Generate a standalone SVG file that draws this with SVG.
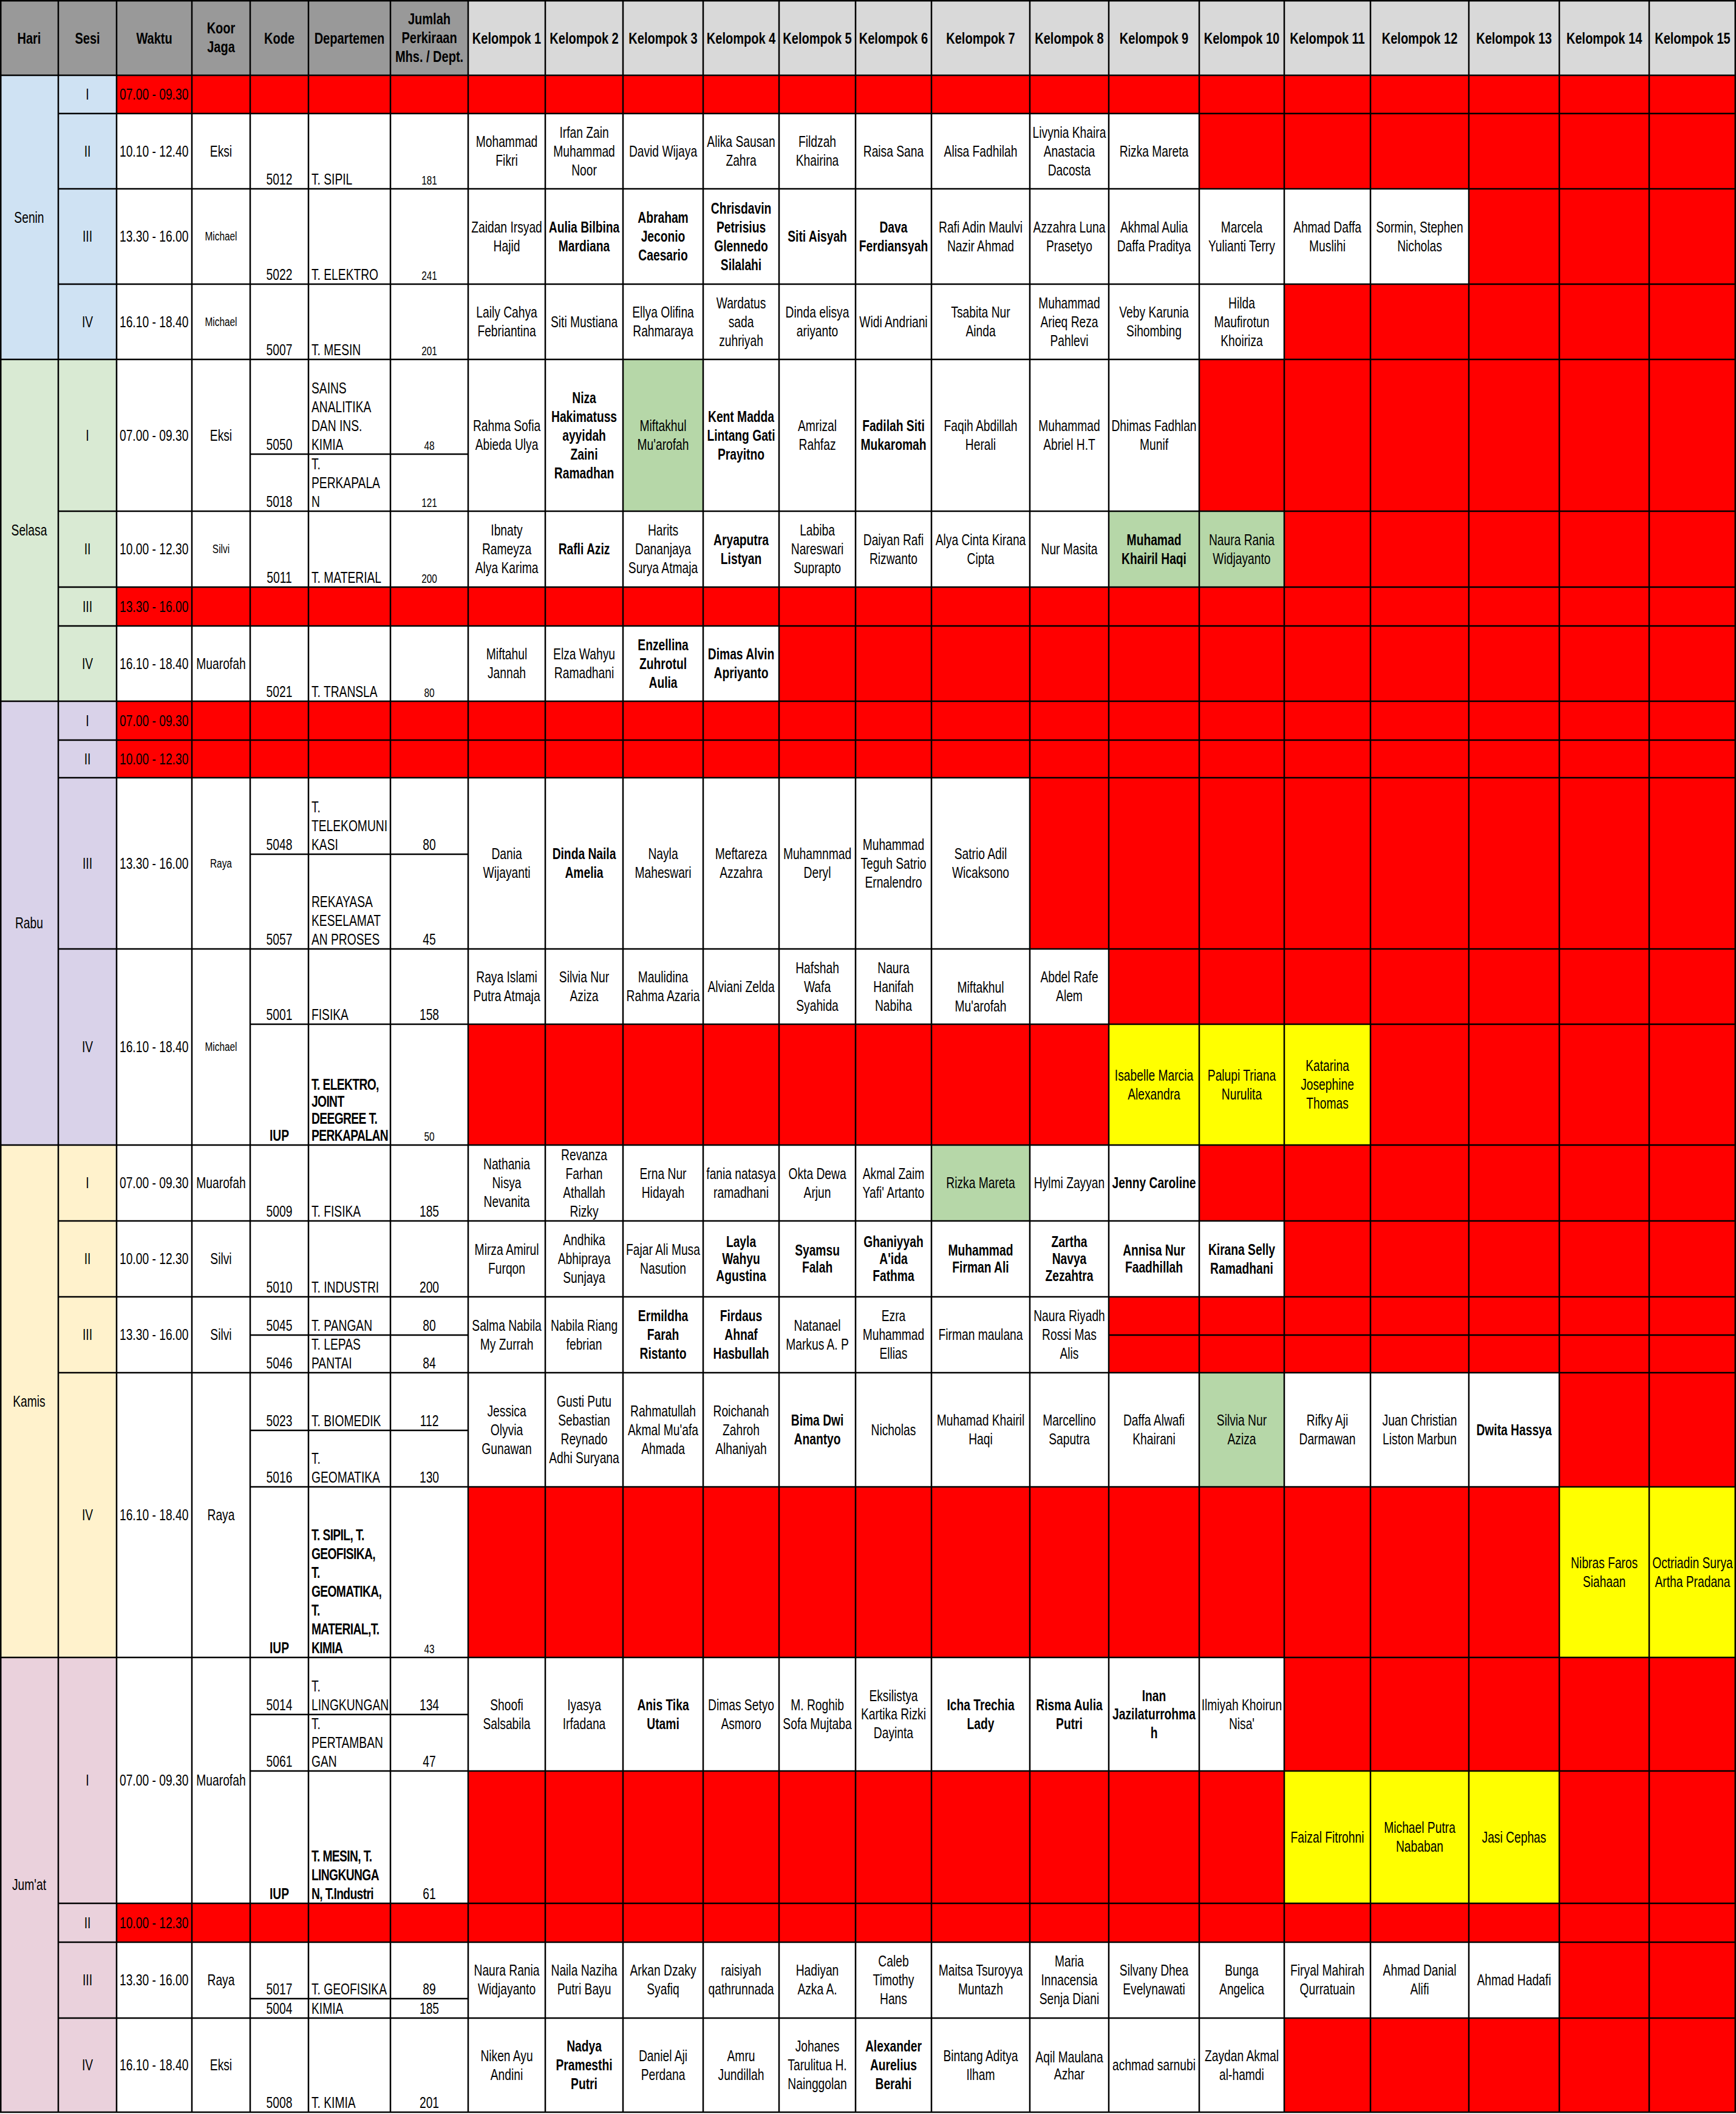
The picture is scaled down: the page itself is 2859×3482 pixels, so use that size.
<svg xmlns="http://www.w3.org/2000/svg" width="2859" height="3482" viewBox="0 0 2859 3482">
<style>
text{font-family:"Liberation Sans",Arial,sans-serif;font-size:25px;text-anchor:middle;fill:#000}
.b{font-weight:bold}
.s{font-size:20px}
.l{text-anchor:start}
.l.b{letter-spacing:-0.8px}
.h{font-weight:bold;font-size:26px}
.g{fill:none;stroke:#000;stroke-width:2.5}
</style>
<rect width="2859" height="3482" fill="#fff"/>
<g id="fills">
<rect x="0" y="0" width="771" height="124" fill="#999"/>
<rect x="771" y="0" width="2088" height="124" fill="#d9d9d9"/>
<rect x="0" y="124" width="192" height="468" fill="#cfe2f3"/>
<rect x="0" y="592" width="192" height="563" fill="#d9ead3"/>
<rect x="0" y="1155" width="192" height="731" fill="#d9d2e9"/>
<rect x="0" y="1886" width="192" height="844" fill="#fff2cc"/>
<rect x="0" y="2730" width="192" height="749" fill="#ead1dc"/>
<path fill="#f00" d="M192 124H2859V187H192Z M1975 187H2859V311H1975Z M2419 311H2859V468H2419Z M2115 468H2859V592H2115Z M1975 592H2859V842H1975Z M2115 842H2859V967H2115Z M192 967H2859V1031H192Z M1283 1031H2859V1155H1283Z M192 1155H2859V1281H192Z M1696 1281H2859V1563H1696Z M1826 1563H2859V1687H1826Z M771 1687H1826V1886H771Z M2257 1687H2859V1886H2257Z M1975 1886H2859V2011H1975Z M2115 2011H2859V2136H2115Z M1826 2136H2859V2261H1826Z M2568 2261H2859V2449H2568Z M771 2449H2568V2730H771Z M2115 2730H2859V2917H2115Z M771 2917H2115V3135H771Z M2568 2917H2859V3135H2568Z M192 3135H2859V3199H192Z M2568 3199H2859V3324H2568Z M2115 3324H2859V3479H2115Z"/>
<path fill="#b6d7a8" d="M1026 592H1158V842H1026Z M1826 842H2115V967H1826Z M1534 1886H1696V2011H1534Z M1975 2261H2115V2449H1975Z"/>
<path fill="#ff0" d="M1826 1687H2257V1886H1826Z M2568 2449H2859V2730H2568Z M2115 2917H2568V3135H2115Z"/>
</g>
<g id="grid">
<rect class="g" x="1.25" y="1.25" width="2856.5" height="3477.75"/>
<path class="g" d="M96 0V3479 M192 0V3479 M316 0V3479 M412 0V3479 M508 0V3479 M643 0V3479 M771 0V3479 M898 0V3479 M1026 0V3479 M1158 0V3479 M1283 0V3479 M1409 0V3479 M1534 0V3479 M1696 0V3479 M1826 0V3479 M1975 0V3479 M2115 0V3479 M2257 0V3479 M2419 0V3479 M2568 0V3479 M2716 0V3479"/>
<path class="g" d="M0 124H2859 M96 187H2859 M96 311H2859 M96 468H2859 M0 592H2859 M412 748H771 M96 842H2859 M96 967H2859 M96 1031H2859 M0 1155H2859 M96 1219H2859 M96 1281H2859 M412 1407H771 M96 1563H2859 M412 1687H2859 M0 1886H2859 M96 2011H2859 M96 2136H2859 M412 2199H771 M1826 2199H2859 M96 2261H2859 M412 2356H771 M412 2449H2859 M0 2730H2859 M412 2824H771 M412 2917H2859 M96 3135H2859 M96 3199H2859 M412 3292H771 M96 3324H2859"/>
</g>
<g id="texts" transform="scale(.77 1)">
<text class="h" x="62.3" y="72">Hari</text>
<text class="h" x="187" y="72">Sesi</text>
<text class="h" x="329.9" y="72">Waktu</text>
<text class="h" x="472.7" y="55">Koor<tspan x="472.7" dy="31">Jaga</tspan></text>
<text class="h" x="597.4" y="72">Kode</text>
<text class="h" x="747.4" y="72">Departemen</text>
<text class="h" x="918.2" y="40">Jumlah<tspan x="918.2" dy="31">Perkiraan</tspan><tspan x="918.2" dy="31">Mhs. / Dept.</tspan></text>
<text class="h" x="1083.8" y="72">Kelompok 1</text>
<text class="h" x="1249.4" y="72">Kelompok 2</text>
<text class="h" x="1418.2" y="72">Kelompok 3</text>
<text class="h" x="1585.1" y="72">Kelompok 4</text>
<text class="h" x="1748.1" y="72">Kelompok 5</text>
<text class="h" x="1911" y="72">Kelompok 6</text>
<text class="h" x="2097.4" y="72">Kelompok 7</text>
<text class="h" x="2287" y="72">Kelompok 8</text>
<text class="h" x="2468.2" y="72">Kelompok 9</text>
<text class="h" x="2655.8" y="72">Kelompok 10</text>
<text class="h" x="2839" y="72">Kelompok 11</text>
<text class="h" x="3036.4" y="72">Kelompok 12</text>
<text class="h" x="3238.3" y="72">Kelompok 13</text>
<text class="h" x="3431.2" y="72">Kelompok 14</text>
<text class="h" x="3620.1" y="72">Kelompok 15</text>

<text x="62.3" y="367">Senin</text>
<text x="62.3" y="882.5">Selasa</text>
<text x="62.3" y="1529.5">Rabu</text>
<text x="62.3" y="2317">Kamis</text>
<text x="62.3" y="3113.5">Jum'at</text>

<text x="187" y="164.5">I</text><text x="187" y="258">II</text><text x="187" y="398.5">III</text><text x="187" y="539">IV</text>
<text x="187" y="726">I</text><text x="187" y="913.5">II</text><text x="187" y="1008">III</text><text x="187" y="1102">IV</text>
<text x="187" y="1196">I</text><text x="187" y="1259">II</text><text x="187" y="1431">III</text><text x="187" y="1733.5">IV</text>
<text x="187" y="1957.5">I</text><text x="187" y="2082.5">II</text><text x="187" y="2207.5">III</text><text x="187" y="2504.5">IV</text>
<text x="187" y="2941.5">I</text><text x="187" y="3175.8">II</text><text x="187" y="3270">III</text><text x="187" y="3410.5">IV</text>

<text class="l" x="255.8" y="164.5">07.00 - 09.30</text>
<text class="l" x="255.8" y="258">10.10 - 12.40</text>
<text class="l" x="255.8" y="398.5">13.30 - 16.00</text>
<text class="l" x="255.8" y="539">16.10 - 18.40</text>
<text class="l" x="255.8" y="726">07.00 - 09.30</text>
<text class="l" x="255.8" y="913.5">10.00 - 12.30</text>
<text class="l" x="255.8" y="1008">13.30 - 16.00</text>
<text class="l" x="255.8" y="1102">16.10 - 18.40</text>
<text class="l" x="255.8" y="1196">07.00 - 09.30</text>
<text class="l" x="255.8" y="1259">10.00 - 12.30</text>
<text class="l" x="255.8" y="1431">13.30 - 16.00</text>
<text class="l" x="255.8" y="1733.5">16.10 - 18.40</text>
<text class="l" x="255.8" y="1957.5">07.00 - 09.30</text>
<text class="l" x="255.8" y="2082.5">10.00 - 12.30</text>
<text class="l" x="255.8" y="2207.5">13.30 - 16.00</text>
<text class="l" x="255.8" y="2504.5">16.10 - 18.40</text>
<text class="l" x="255.8" y="2941.5">07.00 - 09.30</text>
<text class="l" x="255.8" y="3175.8">10.00 - 12.30</text>
<text class="l" x="255.8" y="3270">13.30 - 16.00</text>
<text class="l" x="255.8" y="3410.5">16.10 - 18.40</text>

<text x="472.7" y="258">Eksi</text>
<text class="s" x="472.7" y="396.5">Michael</text>
<text class="s" x="472.7" y="537">Michael</text>
<text x="472.7" y="726">Eksi</text>
<text class="s" x="472.7" y="911.5">Silvi</text>
<text x="472.7" y="1102">Muarofah</text>
<text class="s" x="472.7" y="1429">Raya</text>
<text class="s" x="472.7" y="1731.5">Michael</text>
<text x="472.7" y="1957.5">Muarofah</text>
<text x="472.7" y="2082.5">Silvi</text>
<text x="472.7" y="2207.5">Silvi</text>
<text x="472.7" y="2504.5">Raya</text>
<text x="472.7" y="2941.5">Muarofah</text>
<text x="472.7" y="3270">Raya</text>
<text x="472.7" y="3410.5">Eksi</text>

<text x="597.4" y="304">5012</text>
<text x="597.4" y="461">5022</text>
<text x="597.4" y="585">5007</text>
<text x="597.4" y="741">5050</text>
<text x="597.4" y="835">5018</text>
<text x="597.4" y="960">5011</text>
<text x="597.4" y="1148">5021</text>
<text x="597.4" y="1400">5048</text>
<text x="597.4" y="1556">5057</text>
<text x="597.4" y="1680">5001</text>
<text class="b" x="597.4" y="1879">IUP</text>
<text x="597.4" y="2004">5009</text>
<text x="597.4" y="2129">5010</text>
<text x="597.4" y="2192">5045</text>
<text x="597.4" y="2254">5046</text>
<text x="597.4" y="2349">5023</text>
<text x="597.4" y="2442">5016</text>
<text class="b" x="597.4" y="2723">IUP</text>
<text x="597.4" y="2817">5014</text>
<text x="597.4" y="2910">5061</text>
<text class="b" x="597.4" y="3128">IUP</text>
<text x="597.4" y="3285">5017</text>
<text x="597.4" y="3317">5004</text>
<text x="597.4" y="3472">5008</text>

<text class="l" x="666.2" y="304">T. SIPIL</text>
<text class="l" x="666.2" y="461">T. ELEKTRO</text>
<text class="l" x="666.2" y="585">T. MESIN</text>
<text class="l" x="666.2" y="648">SAINS<tspan x="666.2" dy="31">ANALITIKA</tspan><tspan x="666.2" dy="31">DAN INS.</tspan><tspan x="666.2" dy="31">KIMIA</tspan></text>
<text class="l" x="666.2" y="773">T.<tspan x="666.2" dy="31">PERKAPALA</tspan><tspan x="666.2" dy="31">N</tspan></text>
<text class="l" x="666.2" y="960">T. MATERIAL</text>
<text class="l" x="666.2" y="1148">T. TRANSLA</text>
<text class="l" x="666.2" y="1338">T.<tspan x="666.2" dy="31">TELEKOMUNI</tspan><tspan x="666.2" dy="31">KASI</tspan></text>
<text class="l" x="666.2" y="1494">REKAYASA<tspan x="666.2" dy="31">KESELAMAT</tspan><tspan x="666.2" dy="31">AN PROSES</tspan></text>
<text class="l" x="666.2" y="1680">FISIKA</text>
<text class="l b" x="666.2" y="1795">T. ELEKTRO,<tspan x="666.2" dy="28">JOINT</tspan><tspan x="666.2" dy="28">DEEGREE T.</tspan><tspan x="666.2" dy="28">PERKAPALAN</tspan></text>
<text class="l" x="666.2" y="2004">T. FISIKA</text>
<text class="l" x="666.2" y="2129">T. INDUSTRI</text>
<text class="l" x="666.2" y="2192">T. PANGAN</text>
<text class="l" x="666.2" y="2223">T. LEPAS<tspan x="666.2" dy="31">PANTAI</tspan></text>
<text class="l" x="666.2" y="2349">T. BIOMEDIK</text>
<text class="l" x="666.2" y="2411">T.<tspan x="666.2" dy="31">GEOMATIKA</tspan></text>
<text class="l b" x="666.2" y="2537">T. SIPIL, T.<tspan x="666.2" dy="31">GEOFISIKA,</tspan><tspan x="666.2" dy="31">T.</tspan><tspan x="666.2" dy="31">GEOMATIKA,</tspan><tspan x="666.2" dy="31">T.</tspan><tspan x="666.2" dy="31">MATERIAL,T.</tspan><tspan x="666.2" dy="31">KIMIA</tspan></text>
<text class="l" x="666.2" y="2786">T.<tspan x="666.2" dy="31">LINGKUNGAN</tspan></text>
<text class="l" x="666.2" y="2848">T.<tspan x="666.2" dy="31">PERTAMBAN</tspan><tspan x="666.2" dy="31">GAN</tspan></text>
<text class="l b" x="666.2" y="3066">T. MESIN, T.<tspan x="666.2" dy="31">LINGKUNGA</tspan><tspan x="666.2" dy="31">N, T.Industri</tspan></text>
<text class="l" x="666.2" y="3285">T. GEOFISIKA</text>
<text class="l" x="666.2" y="3317">KIMIA</text>
<text class="l" x="666.2" y="3472">T. KIMIA</text>

<text class="s" x="918.2" y="304">181</text>
<text class="s" x="918.2" y="461">241</text>
<text class="s" x="918.2" y="585">201</text>
<text class="s" x="918.2" y="741">48</text>
<text class="s" x="918.2" y="835">121</text>
<text class="s" x="918.2" y="960">200</text>
<text class="s" x="918.2" y="1148">80</text>
<text x="918.2" y="1400">80</text>
<text x="918.2" y="1556">45</text>
<text x="918.2" y="1680">158</text>
<text class="s" x="918.2" y="1879">50</text>
<text x="918.2" y="2004">185</text>
<text x="918.2" y="2129">200</text>
<text x="918.2" y="2192">80</text>
<text x="918.2" y="2254">84</text>
<text x="918.2" y="2349">112</text>
<text x="918.2" y="2442">130</text>
<text class="s" x="918.2" y="2723">43</text>
<text x="918.2" y="2817">134</text>
<text x="918.2" y="2910">47</text>
<text x="918.2" y="3128">61</text>
<text x="918.2" y="3285">89</text>
<text x="918.2" y="3317">185</text>
<text x="918.2" y="3472">201</text>

<!-- Senin II -->
<text x="1083.8" y="242.5">Mohammad<tspan x="1083.8" dy="31">Fikri</tspan></text>
<text x="1249.4" y="227">Irfan Zain<tspan x="1249.4" dy="31">Muhammad</tspan><tspan x="1249.4" dy="31">Noor</tspan></text>
<text x="1418.2" y="258">David Wijaya</text>
<text x="1585.1" y="242.5">Alika Sausan<tspan x="1585.1" dy="31">Zahra</tspan></text>
<text x="1748.1" y="242.5">Fildzah<tspan x="1748.1" dy="31">Khairina</tspan></text>
<text x="1911" y="258">Raisa Sana</text>
<text x="2097.4" y="258">Alisa Fadhilah</text>
<text x="2287" y="227">Livynia Khaira<tspan x="2287" dy="31">Anastacia</tspan><tspan x="2287" dy="31">Dacosta</tspan></text>
<text x="2468.2" y="258">Rizka Mareta</text>
<!-- Senin III -->
<text x="1083.8" y="383">Zaidan Irsyad<tspan x="1083.8" dy="31">Hajid</tspan></text>
<text class="b" x="1249.4" y="383">Aulia Bilbina<tspan x="1249.4" dy="31">Mardiana</tspan></text>
<text class="b" x="1418.2" y="367.5">Abraham<tspan x="1418.2" dy="31">Jeconio</tspan><tspan x="1418.2" dy="31">Caesario</tspan></text>
<text class="b" x="1585.1" y="352">Chrisdavin<tspan x="1585.1" dy="31">Petrisius</tspan><tspan x="1585.1" dy="31">Glennedo</tspan><tspan x="1585.1" dy="31">Silalahi</tspan></text>
<text class="b" x="1748.1" y="398.5">Siti Aisyah</text>
<text class="b" x="1911" y="383">Dava<tspan x="1911" dy="31">Ferdiansyah</tspan></text>
<text x="2097.4" y="383">Rafi Adin Maulvi<tspan x="2097.4" dy="31">Nazir Ahmad</tspan></text>
<text x="2287" y="383">Azzahra Luna<tspan x="2287" dy="31">Prasetyo</tspan></text>
<text x="2468.2" y="383">Akhmal Aulia<tspan x="2468.2" dy="31">Daffa Praditya</tspan></text>
<text x="2655.8" y="383">Marcela<tspan x="2655.8" dy="31">Yulianti Terry</tspan></text>
<text x="2839" y="383">Ahmad Daffa<tspan x="2839" dy="31">Muslihi</tspan></text>
<text x="3036.4" y="383">Sormin, Stephen<tspan x="3036.4" dy="31">Nicholas</tspan></text>
<!-- Senin IV -->
<text x="1083.8" y="523.5">Laily Cahya<tspan x="1083.8" dy="31">Febriantina</tspan></text>
<text x="1249.4" y="539">Siti Mustiana</text>
<text x="1418.2" y="523.5">Ellya Olifina<tspan x="1418.2" dy="31">Rahmaraya</tspan></text>
<text x="1585.1" y="508">Wardatus<tspan x="1585.1" dy="31">sada</tspan><tspan x="1585.1" dy="31">zuhriyah</tspan></text>
<text x="1748.1" y="523.5">Dinda elisya<tspan x="1748.1" dy="31">ariyanto</tspan></text>
<text x="1911" y="539">Widi Andriani</text>
<text x="2097.4" y="523.5">Tsabita Nur<tspan x="2097.4" dy="31">Ainda</tspan></text>
<text x="2287" y="508">Muhammad<tspan x="2287" dy="31">Arieq Reza</tspan><tspan x="2287" dy="31">Pahlevi</tspan></text>
<text x="2468.2" y="523.5">Veby Karunia<tspan x="2468.2" dy="31">Sihombing</tspan></text>
<text x="2655.8" y="508">Hilda<tspan x="2655.8" dy="31">Maufirotun</tspan><tspan x="2655.8" dy="31">Khoiriza</tspan></text>
<!-- Selasa I -->
<text x="1083.8" y="710.5">Rahma Sofia<tspan x="1083.8" dy="31">Abieda Ulya</tspan></text>
<text class="b" x="1249.4" y="664">Niza<tspan x="1249.4" dy="31">Hakimatuss</tspan><tspan x="1249.4" dy="31">ayyidah</tspan><tspan x="1249.4" dy="31">Zaini</tspan><tspan x="1249.4" dy="31">Ramadhan</tspan></text>
<text x="1418.2" y="710.5">Miftakhul<tspan x="1418.2" dy="31">Mu'arofah</tspan></text>
<text class="b" x="1585.1" y="695">Kent Madda<tspan x="1585.1" dy="31">Lintang Gati</tspan><tspan x="1585.1" dy="31">Prayitno</tspan></text>
<text x="1748.1" y="710.5">Amrizal<tspan x="1748.1" dy="31">Rahfaz</tspan></text>
<text class="b" x="1911" y="710.5">Fadilah Siti<tspan x="1911" dy="31">Mukaromah</tspan></text>
<text x="2097.4" y="710.5">Faqih Abdillah<tspan x="2097.4" dy="31">Herali</tspan></text>
<text x="2287" y="710.5">Muhammad<tspan x="2287" dy="31">Abriel H.T</tspan></text>
<text x="2468.2" y="710.5">Dhimas Fadhlan<tspan x="2468.2" dy="31">Munif</tspan></text>
<!-- Selasa II -->
<text x="1083.8" y="882.5">Ibnaty<tspan x="1083.8" dy="31">Rameyza</tspan><tspan x="1083.8" dy="31">Alya Karima</tspan></text>
<text class="b" x="1249.4" y="913.5">Rafli Aziz</text>
<text x="1418.2" y="882.5">Harits<tspan x="1418.2" dy="31">Dananjaya</tspan><tspan x="1418.2" dy="31">Surya Atmaja</tspan></text>
<text class="b" x="1585.1" y="898">Aryaputra<tspan x="1585.1" dy="31">Listyan</tspan></text>
<text x="1748.1" y="882.5">Labiba<tspan x="1748.1" dy="31">Nareswari</tspan><tspan x="1748.1" dy="31">Suprapto</tspan></text>
<text x="1911" y="898">Daiyan Rafi<tspan x="1911" dy="31">Rizwanto</tspan></text>
<text x="2097.4" y="898">Alya Cinta Kirana<tspan x="2097.4" dy="31">Cipta</tspan></text>
<text x="2287" y="913.5">Nur Masita</text>
<text class="b" x="2468.2" y="898">Muhamad<tspan x="2468.2" dy="31">Khairil Haqi</tspan></text>
<text x="2655.8" y="898">Naura Rania<tspan x="2655.8" dy="31">Widjayanto</tspan></text>
<!-- Selasa IV -->
<text x="1083.8" y="1086.5">Miftahul<tspan x="1083.8" dy="31">Jannah</tspan></text>
<text x="1249.4" y="1086.5">Elza Wahyu<tspan x="1249.4" dy="31">Ramadhani</tspan></text>
<text class="b" x="1418.2" y="1071">Enzellina<tspan x="1418.2" dy="31">Zuhrotul</tspan><tspan x="1418.2" dy="31">Aulia</tspan></text>
<text class="b" x="1585.1" y="1086.5">Dimas Alvin<tspan x="1585.1" dy="31">Apriyanto</tspan></text>
<!-- Rabu III -->
<text x="1083.8" y="1415.5">Dania<tspan x="1083.8" dy="31">Wijayanti</tspan></text>
<text class="b" x="1249.4" y="1415.5">Dinda Naila<tspan x="1249.4" dy="31">Amelia</tspan></text>
<text x="1418.2" y="1415.5">Nayla<tspan x="1418.2" dy="31">Maheswari</tspan></text>
<text x="1585.1" y="1415.5">Meftareza<tspan x="1585.1" dy="31">Azzahra</tspan></text>
<text x="1748.1" y="1415.5">Muhamnmad<tspan x="1748.1" dy="31">Deryl</tspan></text>
<text x="1911" y="1400">Muhammad<tspan x="1911" dy="31">Teguh Satrio</tspan><tspan x="1911" dy="31">Ernalendro</tspan></text>
<text x="2097.4" y="1415.5">Satrio Adil<tspan x="2097.4" dy="31">Wicaksono</tspan></text>
<!-- Rabu IV -->
<text x="1083.8" y="1618.5">Raya Islami<tspan x="1083.8" dy="31">Putra Atmaja</tspan></text>
<text x="1249.4" y="1618.5">Silvia Nur<tspan x="1249.4" dy="31">Aziza</tspan></text>
<text x="1418.2" y="1618.5">Maulidina<tspan x="1418.2" dy="31">Rahma Azaria</tspan></text>
<text x="1585.1" y="1634">Alviani Zelda</text>
<text x="1748.1" y="1603">Hafshah<tspan x="1748.1" dy="31">Wafa</tspan><tspan x="1748.1" dy="31">Syahida</tspan></text>
<text x="1911" y="1603">Naura<tspan x="1911" dy="31">Hanifah</tspan><tspan x="1911" dy="31">Nabiha</tspan></text>
<text x="2097.4" y="1635.5">Miftakhul<tspan x="2097.4" dy="31">Mu'arofah</tspan></text>
<text x="2287" y="1618.5">Abdel Rafe<tspan x="2287" dy="31">Alem</tspan></text>
<text x="2468.2" y="1780">Isabelle Marcia<tspan x="2468.2" dy="31">Alexandra</tspan></text>
<text x="2655.8" y="1780">Palupi Triana<tspan x="2655.8" dy="31">Nurulita</tspan></text>
<text x="2839" y="1764.5">Katarina<tspan x="2839" dy="31">Josephine</tspan><tspan x="2839" dy="31">Thomas</tspan></text>
<!-- Kamis I -->
<text x="1083.8" y="1926.5">Nathania<tspan x="1083.8" dy="31">Nisya</tspan><tspan x="1083.8" dy="31">Nevanita</tspan></text>
<text x="1249.4" y="1911">Revanza<tspan x="1249.4" dy="31">Farhan</tspan><tspan x="1249.4" dy="31">Athallah</tspan><tspan x="1249.4" dy="31">Rizky</tspan></text>
<text x="1418.2" y="1942">Erna Nur<tspan x="1418.2" dy="31">Hidayah</tspan></text>
<text x="1585.1" y="1942">fania natasya<tspan x="1585.1" dy="31">ramadhani</tspan></text>
<text x="1748.1" y="1942">Okta Dewa<tspan x="1748.1" dy="31">Arjun</tspan></text>
<text x="1911" y="1942">Akmal Zaim<tspan x="1911" dy="31">Yafi' Artanto</tspan></text>
<text x="2097.4" y="1957.5">Rizka Mareta</text>
<text x="2287" y="1957.5">Hylmi Zayyan</text>
<text class="b" x="2468.2" y="1957.5">Jenny Caroline</text>
<!-- Kamis II -->
<text x="1083.8" y="2067">Mirza Amirul<tspan x="1083.8" dy="31">Furqon</tspan></text>
<text x="1249.4" y="2051.5">Andhika<tspan x="1249.4" dy="31">Abhipraya</tspan><tspan x="1249.4" dy="31">Sunjaya</tspan></text>
<text x="1418.2" y="2067">Fajar Ali Musa<tspan x="1418.2" dy="31">Nasution</tspan></text>
<text class="b" x="1585.1" y="2054.5">Layla<tspan x="1585.1" dy="28">Wahyu</tspan><tspan x="1585.1" dy="28">Agustina</tspan></text>
<text class="b" x="1748.1" y="2068.5">Syamsu<tspan x="1748.1" dy="28">Falah</tspan></text>
<text class="b" x="1911" y="2054.5">Ghaniyyah<tspan x="1911" dy="28">A'ida</tspan><tspan x="1911" dy="28">Fathma</tspan></text>
<text class="b" x="2097.4" y="2068.5">Muhammad<tspan x="2097.4" dy="28">Firman Ali</tspan></text>
<text class="b" x="2287" y="2054.5">Zartha<tspan x="2287" dy="28">Navya</tspan><tspan x="2287" dy="28">Zezahtra</tspan></text>
<text class="b" x="2468.2" y="2068.5">Annisa Nur<tspan x="2468.2" dy="28">Faadhillah</tspan></text>
<text class="b" x="2655.8" y="2067">Kirana Selly<tspan x="2655.8" dy="31">Ramadhani</tspan></text>
<!-- Kamis III -->
<text x="1083.8" y="2192">Salma Nabila<tspan x="1083.8" dy="31">My Zurrah</tspan></text>
<text x="1249.4" y="2192">Nabila Riang<tspan x="1249.4" dy="31">febrian</tspan></text>
<text class="b" x="1418.2" y="2176.5">Ermildha<tspan x="1418.2" dy="31">Farah</tspan><tspan x="1418.2" dy="31">Ristanto</tspan></text>
<text class="b" x="1585.1" y="2176.5">Firdaus<tspan x="1585.1" dy="31">Ahnaf</tspan><tspan x="1585.1" dy="31">Hasbullah</tspan></text>
<text x="1748.1" y="2192">Natanael<tspan x="1748.1" dy="31">Markus A. P</tspan></text>
<text x="1911" y="2176.5">Ezra<tspan x="1911" dy="31">Muhammad</tspan><tspan x="1911" dy="31">Ellias</tspan></text>
<text x="2097.4" y="2207.5">Firman maulana</text>
<text x="2287" y="2176.5">Naura Riyadh<tspan x="2287" dy="31">Rossi Mas</tspan><tspan x="2287" dy="31">Alis</tspan></text>
<!-- Kamis IV -->
<text x="1083.8" y="2333">Jessica<tspan x="1083.8" dy="31">Olyvia</tspan><tspan x="1083.8" dy="31">Gunawan</tspan></text>
<text x="1249.4" y="2317.5">Gusti Putu<tspan x="1249.4" dy="31">Sebastian</tspan><tspan x="1249.4" dy="31">Reynado</tspan><tspan x="1249.4" dy="31">Adhi Suryana</tspan></text>
<text x="1418.2" y="2333">Rahmatullah<tspan x="1418.2" dy="31">Akmal Mu'afa</tspan><tspan x="1418.2" dy="31">Ahmada</tspan></text>
<text x="1585.1" y="2333">Roichanah<tspan x="1585.1" dy="31">Zahroh</tspan><tspan x="1585.1" dy="31">Alhaniyah</tspan></text>
<text class="b" x="1748.1" y="2348.5">Bima Dwi<tspan x="1748.1" dy="31">Anantyo</tspan></text>
<text x="1911" y="2364">Nicholas</text>
<text x="2097.4" y="2348.5">Muhamad Khairil<tspan x="2097.4" dy="31">Haqi</tspan></text>
<text x="2287" y="2348.5">Marcellino<tspan x="2287" dy="31">Saputra</tspan></text>
<text x="2468.2" y="2348.5">Daffa Alwafi<tspan x="2468.2" dy="31">Khairani</tspan></text>
<text x="2655.8" y="2348.5">Silvia Nur<tspan x="2655.8" dy="31">Aziza</tspan></text>
<text x="2839" y="2348.5">Rifky Aji<tspan x="2839" dy="31">Darmawan</tspan></text>
<text x="3036.4" y="2348.5">Juan Christian<tspan x="3036.4" dy="31">Liston Marbun</tspan></text>
<text class="b" x="3238.3" y="2364">Dwita Hassya</text>
<text x="3431.2" y="2583">Nibras Faros<tspan x="3431.2" dy="31">Siahaan</tspan></text>
<text x="3620.1" y="2583">Octriadin Surya<tspan x="3620.1" dy="31">Artha Pradana</tspan></text>
<!-- Jumat I -->
<text x="1083.8" y="2817">Shoofi<tspan x="1083.8" dy="31">Salsabila</tspan></text>
<text x="1249.4" y="2817">Iyasya<tspan x="1249.4" dy="31">Irfadana</tspan></text>
<text class="b" x="1418.2" y="2817">Anis Tika<tspan x="1418.2" dy="31">Utami</tspan></text>
<text x="1585.1" y="2817">Dimas Setyo<tspan x="1585.1" dy="31">Asmoro</tspan></text>
<text x="1748.1" y="2817">M. Roghib<tspan x="1748.1" dy="31">Sofa Mujtaba</tspan></text>
<text x="1911" y="2801.5">Eksilistya<tspan x="1911" dy="31">Kartika Rizki</tspan><tspan x="1911" dy="31">Dayinta</tspan></text>
<text class="b" x="2097.4" y="2817">Icha Trechia<tspan x="2097.4" dy="31">Lady</tspan></text>
<text class="b" x="2287" y="2817">Risma Aulia<tspan x="2287" dy="31">Putri</tspan></text>
<text class="b" x="2468.2" y="2801.5">Inan<tspan x="2468.2" dy="31">Jazilaturrohma</tspan><tspan x="2468.2" dy="31">h</tspan></text>
<text x="2655.8" y="2817">Ilmiyah Khoirun<tspan x="2655.8" dy="31">Nisa'</tspan></text>
<text x="2839" y="3035">Faizal Fitrohni</text>
<text x="3036.4" y="3019.5">Michael Putra<tspan x="3036.4" dy="31">Nababan</tspan></text>
<text x="3238.3" y="3035">Jasi Cephas</text>
<!-- Jumat III -->
<text x="1083.8" y="3254.5">Naura Rania<tspan x="1083.8" dy="31">Widjayanto</tspan></text>
<text x="1249.4" y="3254.5">Naila Naziha<tspan x="1249.4" dy="31">Putri Bayu</tspan></text>
<text x="1418.2" y="3254.5">Arkan Dzaky<tspan x="1418.2" dy="31">Syafiq</tspan></text>
<text x="1585.1" y="3254.5">raisiyah<tspan x="1585.1" dy="31">qathrunnada</tspan></text>
<text x="1748.1" y="3254.5">Hadiyan<tspan x="1748.1" dy="31">Azka A.</tspan></text>
<text x="1911" y="3239">Caleb<tspan x="1911" dy="31">Timothy</tspan><tspan x="1911" dy="31">Hans</tspan></text>
<text x="2097.4" y="3254.5">Maitsa Tsuroyya<tspan x="2097.4" dy="31">Muntazh</tspan></text>
<text x="2287" y="3239">Maria<tspan x="2287" dy="31">Innacensia</tspan><tspan x="2287" dy="31">Senja Diani</tspan></text>
<text x="2468.2" y="3254.5">Silvany Dhea<tspan x="2468.2" dy="31">Evelynawati</tspan></text>
<text x="2655.8" y="3254.5">Bunga<tspan x="2655.8" dy="31">Angelica</tspan></text>
<text x="2839" y="3254.5">Firyal Mahirah<tspan x="2839" dy="31">Qurratuain</tspan></text>
<text x="3036.4" y="3254.5">Ahmad Danial<tspan x="3036.4" dy="31">Alifi</tspan></text>
<text x="3238.3" y="3270">Ahmad Hadafi</text>
<!-- Jumat IV -->
<text x="1083.8" y="3395">Niken Ayu<tspan x="1083.8" dy="31">Andini</tspan></text>
<text class="b" x="1249.4" y="3379.5">Nadya<tspan x="1249.4" dy="31">Pramesthi</tspan><tspan x="1249.4" dy="31">Putri</tspan></text>
<text x="1418.2" y="3395">Daniel Aji<tspan x="1418.2" dy="31">Perdana</tspan></text>
<text x="1585.1" y="3395">Amru<tspan x="1585.1" dy="31">Jundillah</tspan></text>
<text x="1748.1" y="3379.5">Johanes<tspan x="1748.1" dy="31">Tarulitua H.</tspan><tspan x="1748.1" dy="31">Nainggolan</tspan></text>
<text class="b" x="1911" y="3379.5">Alexander<tspan x="1911" dy="31">Aurelius</tspan><tspan x="1911" dy="31">Berahi</tspan></text>
<text x="2097.4" y="3395">Bintang Aditya<tspan x="2097.4" dy="31">Ilham</tspan></text>
<text x="2287" y="3397">Aqil Maulana<tspan x="2287" dy="28">Azhar</tspan></text>
<text x="2468.2" y="3410.5">achmad sarnubi</text>
<text x="2655.8" y="3395">Zaydan Akmal<tspan x="2655.8" dy="31">al-hamdi</tspan></text>
</g>
</svg>
